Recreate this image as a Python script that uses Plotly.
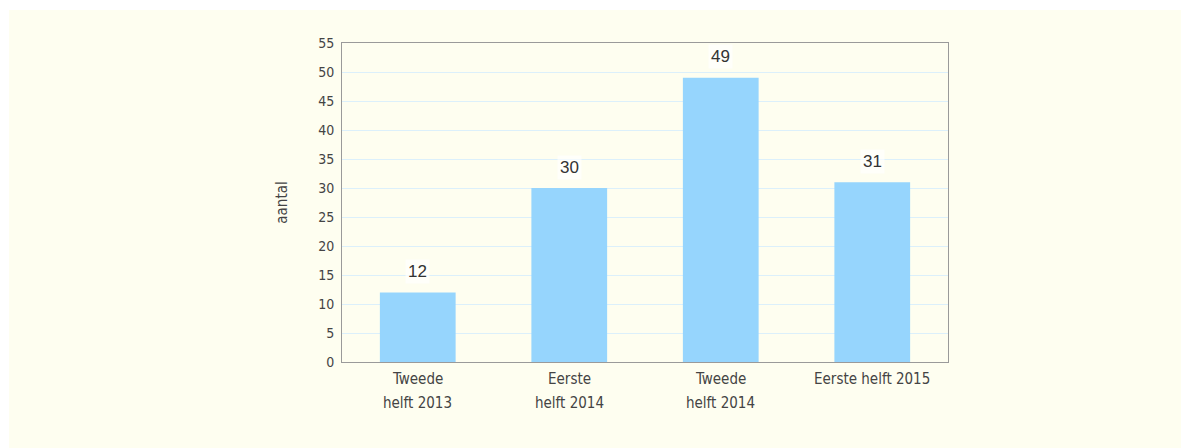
import plotly.graph_objects as go

categories = ["Tweede<br>helft 2013", "Eerste<br>helft 2014", "Tweede<br>helft 2014", "Eerste helft 2015"]
values = [12, 30, 49, 31]
y_ticks = list(range(0, 56, 5))

narrow = "DejaVu Sans Condensed, Liberation Sans Narrow, sans-serif"

fig = go.Figure()
fig.add_trace(go.Bar(
    x=categories, y=values, width=0.5,
    marker=dict(color="#96d5fd", line=dict(width=0)),
    hoverinfo="x+y",
))

# value labels above bars
for c, v in zip(categories, values):
    fig.add_annotation(x=c, y=v, xref="x", yref="y", text=str(v), showarrow=False,
                       yshift=21, font=dict(family="Liberation Sans, Arial, sans-serif", size=17, color="#333333"),
                       bgcolor="rgba(255,255,255,0.65)", borderpad=2)

# category labels, line by line
for c in categories:
    for i, line in enumerate(c.split("<br>")):
        fig.add_annotation(x=c, y=0, xref="x", yref="paper", text=line, showarrow=False,
                           yanchor="top", yshift=-6 - 24 * i,
                           font=dict(family=narrow, size=15, color="#444444"))

L, T, PW, PH = 342, 43, 606, 319
W, H = 1181, 448
fig.add_shape(type="rect", xref="paper", yref="paper", layer="below",
              x0=(9 - L) / PW, x1=(W + 30 - L) / PW, y0=-(H + 30 - T - PH) / PH, y1=1 + (T - 10) / PH,
              fillcolor="#fefef0", line=dict(width=0))

fig.update_layout(
    width=W, height=H,
    margin=dict(l=L, r=W - L - PW, t=T, b=H - T - PH),
    paper_bgcolor="white", plot_bgcolor="rgba(0,0,0,0)",
    showlegend=False, bargap=0.5,
    font=dict(family=narrow, size=15, color="#444444"),
)
fig.update_xaxes(showticklabels=False, showgrid=False, showline=True, linecolor="#9a9a9a",
                 linewidth=1, mirror=True, ticks="", zeroline=False)
fig.update_yaxes(range=[0, 55], tickvals=y_ticks, showgrid=True, gridcolor="#dcf0fb",
                 showline=True, linecolor="#9a9a9a", linewidth=1, mirror=True, zeroline=False,
                 ticks="", ticklabelstandoff=4,
                 tickfont=dict(family=narrow, size=14, color="#444444"),
                 title=dict(text="aantal", font=dict(family=narrow, size=15, color="#444444"), standoff=26))

fig.write_html("out.html", config={"displayModeBar": False},
               post_script="document.body.style.margin='0';document.body.style.overflow='hidden';")
